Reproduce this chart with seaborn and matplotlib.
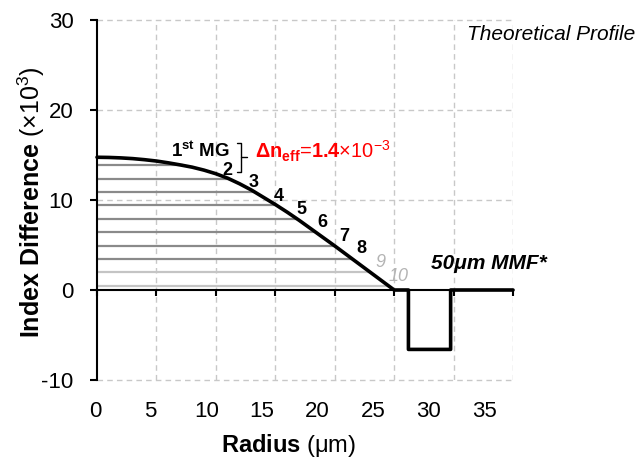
import matplotlib
matplotlib.use("Agg")
import matplotlib.pyplot as plt
import seaborn as sns
import pandas as pd

# ---------------- data ----------------
radius = [0, 1, 2, 3, 4, 5, 6, 7, 8, 9, 10, 11, 12, 13, 14, 15, 16, 17, 18,
          19, 20, 21, 22, 23, 24, 25, 26.2, 26.2, 29.75, 29.75, 35]
index_diff = [14.75, 14.73, 14.68, 14.6, 14.48, 14.33, 14.13, 13.9, 13.65,
              13.32, 12.92, 12.42, 11.8, 11.1, 10.3, 9.5, 8.65, 7.75, 6.8,
              5.85, 4.9, 3.92, 2.94, 1.96, 0.98, 0.0, 0.0, -6.6, -6.6, 0.0, 0.0]

mode_labels = ["1", "2", "3", "4", "5", "6", "7", "8", "9", "10"]
mode_levels = [13.85, 12.35, 10.85, 9.4, 7.9, 6.4, 4.9, 3.4, 1.95, 0.45]
mode_ends = [7.2, 11.1, 13.3, 15.1, 16.85, 18.4, 20.0, 21.5, 23.0, 24.5]
mode_label_x = [None, 10.95, 13.15, 15.25, 17.2, 19.0, 20.8, 22.27, 23.8, 25.35]
mode_label_y = [None, 13.25, 12.0, 10.37, 8.9, 7.48, 6.0, 4.63, 3.03, 1.55]

x_ticks = [0, 5, 10, 15, 20, 25, 30, 35]
y_ticks = [-10, 0, 10, 20, 30]

# ---------------- style ----------------
sns.set_style("white")
plt.rcParams["font.family"] = ["Liberation Sans", "DejaVu Sans"]
plt.rcParams["mathtext.fontset"] = "custom"
plt.rcParams["mathtext.rm"] = "Liberation Sans"
plt.rcParams["mathtext.bf"] = "Liberation Sans:bold"
plt.rcParams["mathtext.it"] = "Liberation Sans:italic"
plt.rcParams["axes.unicode_minus"] = False
plt.rcParams["text.color"] = "black"
plt.rcParams["axes.labelcolor"] = "black"
plt.rcParams["xtick.color"] = "black"
plt.rcParams["ytick.color"] = "black"

fig = plt.figure(figsize=(6.4, 4.58), dpi=100)
ax = fig.add_axes([0.1516, 0.1703, 0.65, 0.786])

ax.set_xlim(0, 35)
ax.set_ylim(-10, 30)
ax.set_xticks(x_ticks)
ax.set_yticks(y_ticks)

# grid
for xv in x_ticks[1:]:
    ax.axvline(xv, color="#c8c8c8", lw=1.0, ls=(0, (4, 3)), zorder=0)
for yv in [-10, 10, 20, 30]:
    ax.axhline(yv, color="#c8c8c8", lw=1.0, ls=(0, (4, 3)), zorder=0, clip_on=False)

# spines
for s in ["top", "right"]:
    ax.spines[s].set_visible(False)
ax.spines["left"].set_linewidth(1.5)
ax.spines["left"].set_color("black")
ax.spines["bottom"].set_position(("data", 0))
ax.spines["bottom"].set_linewidth(1.5)
ax.spines["bottom"].set_color("black")

ax.tick_params(axis="y", direction="out", length=5, width=1.5, pad=12,
               labelsize=16, left=True, labelcolor="black")
ax.tick_params(axis="x", direction="out", length=4, width=1.5,
               bottom=True, labelbottom=False)

# tick labels of the radius axis sit slightly compressed below the plot
lab_scale, lab_off = 0.9356, -0.17
xtf = ax.get_xaxis_transform()
for v in x_ticks:
    ax.text(lab_off + lab_scale * v, -0.057, str(v), transform=xtf,
            ha="center", va="top", fontsize=16, color="black", clip_on=False)

# mode lines
mode_colors = ["#8a8a8a"] * 8 + ["#c4c4c4", "#c4c4c4"]
for lvl, end, c in zip(mode_levels, mode_ends, mode_colors):
    ax.hlines(lvl, 0, end, colors=c, lw=1.6, zorder=2)

# profile
df = pd.DataFrame({"r": radius, "n": index_diff})
sns.lineplot(data=df, x="r", y="n", sort=False, estimator=None, color="black",
             lw=2.6, ax=ax, zorder=4, clip_on=False)

# axis labels
ax.set_xlabel("")
ax.set_ylabel("")
ax.text(0.46, -0.144, r"$\mathbf{Radius}$ (μm)", transform=ax.transAxes,
        ha="center", va="top", fontsize=17, color="black", clip_on=False)
ax.text(-0.157, 0.495, r"$\mathbf{Index\ Difference}$ (×10$^3$)",
        transform=ax.transAxes, ha="center", va="center", rotation=90,
        fontsize=18, color="black", clip_on=False)

# mode numbers
for lab, xx, yy in zip(mode_labels[1:8], mode_label_x[1:8], mode_label_y[1:8]):
    ax.text(xx, yy, lab, fontsize=13, fontweight="bold", ha="center",
            va="center", color="black", zorder=5)
for lab, xx, yy in zip(mode_labels[8:], mode_label_x[8:], mode_label_y[8:]):
    ax.text(xx, yy, lab, fontsize=13, fontstyle="italic", ha="center",
            va="center", color="#b4b4b4", zorder=5)

ax.text(6.2, 15.4, r"$\mathbf{1^{st}\ MG}$", fontsize=13.5, ha="left",
        va="center", color="black")

# bracket
bx0, bx1, bx2 = 11.75, 12.1, 12.6
by0, by1, bym = 16.3, 13.15, 14.8
ax.plot([bx0, bx1, bx1, bx0], [by0, by0, by1, by1], color="black", lw=1.0)
ax.plot([bx1, bx2], [bym, bym], color="black", lw=1.0)

ax.text(13.3, 15.35, r"$\mathbf{\Delta n_{eff}}$=$\mathbf{1.4}$×10$^{-3}$",
        fontsize=14.4, color="#ff0000", ha="left", va="center")

ax.text(28.1, 2.9, "50μm MMF*", fontsize=15, fontweight="bold",
        fontstyle="italic", ha="left", va="center", color="black")
ax.text(31.1, 28.35, "Theoretical Profile", fontsize=15, fontstyle="italic",
        ha="left", va="center", color="black", clip_on=False)

fig.savefig("out.png", dpi=100)
